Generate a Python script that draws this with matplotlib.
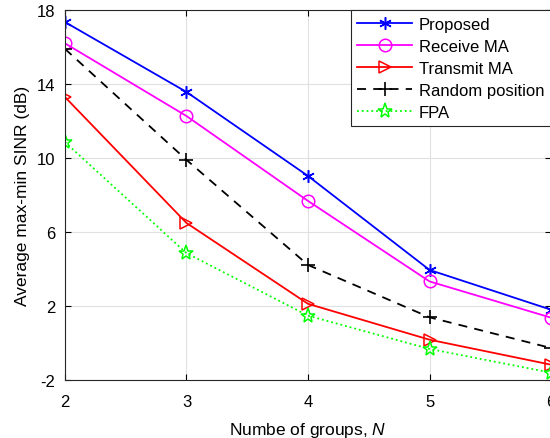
import matplotlib
matplotlib.use("Agg")
import matplotlib.pyplot as plt

plt.rcParams['font.family'] = ['Liberation Sans', 'DejaVu Sans']
plt.rcParams['mathtext.fontset'] = 'custom'
plt.rcParams['mathtext.it'] = 'Liberation Sans:italic'
plt.rcParams['axes.unicode_minus'] = False

# numero de grupos
grupos = [2, 3, 4, 5, 6]

proposed = [17.35, 13.57, 9.03, 3.95, 1.8]
receive_ma = [16.2, 12.27, 7.68, 3.33, 1.37]
transmit_ma = [13.3, 6.49, 2.12, 0.18, -1.17]
random_pos = [15.9, 9.9, 4.22, 1.39, -0.27]
fpa = [10.86, 4.86, 1.48, -0.32, -1.6]

y_ticks = [-2, 2, 6, 10, 14, 18]

fig = plt.figure(figsize=(5.5, 4.39), dpi=100)
ax = fig.add_axes([0.118, 0.132, 0.884, 0.843])

ax.plot(grupos, proposed, color='blue', lw=1.3, marker=(6, 2, 0), ms=9, mew=1.1,
        label='Proposed')
ax.plot(grupos, receive_ma, color='magenta', lw=1.3, marker='o', ms=9, mfc='none',
        mew=1.1, label='Receive MA')
ax.plot(grupos, transmit_ma, color='red', lw=1.3, marker='>', ms=9, mfc='none',
        mew=1.1, label='Transmit MA')
ax.plot(grupos, random_pos, color='black', lw=1.3, ls=(0, (5, 4)), marker='+', ms=10,
        mew=1.2, label='Random position')
ax.plot(grupos, fpa, color='#00ff00', lw=1.3, ls=':', marker='*', ms=11, mfc='none',
        mew=1.1, label='FPA')

ax.set_xlim(2, 6)
ax.set_ylim(-2, 18)
ax.set_xticks(grupos)
ax.set_yticks(y_ticks)
ax.grid(True, color='#e0e0e0', lw=0.8)
ax.set_axisbelow(True)
ax.tick_params(direction='in', labelsize=12, top=True, right=True, length=4)
ax.tick_params(axis='x', pad=10)
ax.tick_params(axis='y', pad=7)
for sp in ax.spines.values():
    sp.set_linewidth(0.8)
    sp.set_color('#262626')

ax.set_xlabel('Numbe of groups, $N$', fontsize=12.5, labelpad=8)
ax.set_ylabel('Average max-min SINR (dB)', fontsize=12.5, labelpad=5)

leg = ax.legend(loc='upper right', fontsize=12, frameon=True, fancybox=False,
                edgecolor='#262626', framealpha=1, borderaxespad=0,
                handlelength=3.3, labelspacing=0.42, borderpad=0.4, handletextpad=0.4)
leg.get_frame().set_linewidth(0.8)

fig.savefig('out.png', dpi=100)
